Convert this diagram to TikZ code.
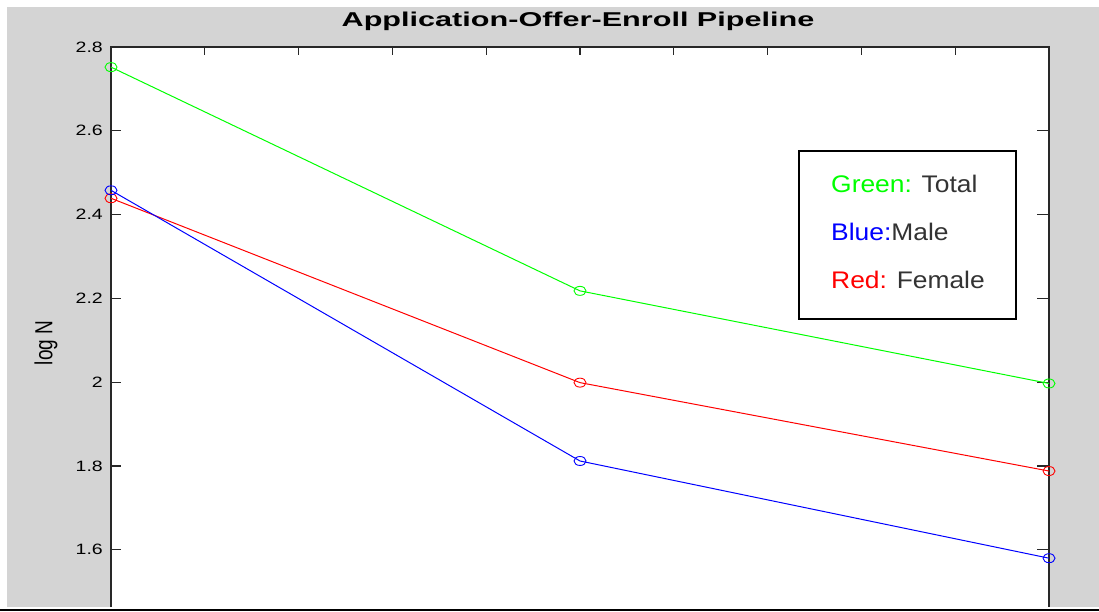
\documentclass[tikz,border=0pt]{standalone}
\usepackage{fontspec}
\setmainfont{Liberation Sans}
\usetikzlibrary{shapes.geometric}
\definecolor{bggray}{RGB}{212,212,212}
\definecolor{axgray}{RGB}{40,40,40}
\definecolor{txtgray}{RGB}{51,51,51}
\definecolor{mgreen}{RGB}{0,255,0}
\definecolor{mblue}{RGB}{0,0,255}
\definecolor{mred}{RGB}{255,0,0}
\tikzset{
  datamark/.style={ellipse,draw=#1,line width=0.9pt,minimum width=12pt,minimum height=9pt,inner sep=0pt},
  dataline/.style={draw=#1,line width=1pt},
  axisline/.style={draw=axgray,line width=1.6pt},
  tickline/.style={draw=axgray,line width=1.2pt},
  ticklabel/.style={anchor=east,inner sep=0pt,text=black,font=\fontsize{15}{15}\selectfont},
  legtext/.style={anchor=base west,inner sep=0pt,font=\fontsize{24}{24}\selectfont}
}
\begin{document}
\begin{tikzpicture}[x=1pt,y=-1pt]
\useasboundingbox (0,0) rectangle (1099,611);
% background
\fill[white] (0,0) rectangle (1099,611);
\fill[bggray] (7,7) rectangle (1099,607);
\fill[black] (0,608.5) rectangle (1099,611);
% plot area
\fill[white] (111,47) rectangle (1049,607);
% title
\node[inner sep=0pt,font=\bfseries\fontsize{20}{20}\selectfont] (title) at (578,21) {\scalebox{1.53}[1]{Application-Offer-Enroll Pipeline}};
% y label
\node[inner sep=0pt,font=\fontsize{19}{19}\selectfont] (ylab) at (46,343) {\rotatebox{90}{\scalebox{1}[1.3]{log N}}};
% ticks
\foreach \i in {1,...,9} {
  \draw[tickline] ({111+\i*93.8},47) -- ++(0,8);
}
\foreach \v/\lab [count=\k] in {1.6/1.6,1.8/1.8,2.0/2,2.2/2.2,2.4/2.4,2.6/2.6,2.8/2.8} {
  \coordinate (yt\k) at (111,{47+(2.8-\v)*419});
  \coordinate (ytr\k) at (1049,{47+(2.8-\v)*419});
  \draw[tickline] (yt\k) -- ++(10,0);
  \draw[tickline] (ytr\k) -- ++(-12,0);
  \node[ticklabel] (ytl\k) at ([xshift=-8pt]yt\k) {\scalebox{1.3}[1]{\lab}};
}
% axes
\draw[axisline] (111,607) -- (111,47) -- (1049,47) -- (1049,607);
% data points
\node[datamark=mgreen] (g1) at (111,{47+(2.8-2.752)*419}) {};
\node[datamark=mgreen] (g2) at (580,{47+(2.8-2.218)*419}) {};
\node[datamark=mgreen] (g3) at (1049,{47+(2.8-1.997)*419}) {};
\node[datamark=mred] (r1) at (111,{47+(2.8-2.439)*419}) {};
\node[datamark=mred] (r2) at (580,{47+(2.8-1.999)*419}) {};
\node[datamark=mred] (r3) at (1049,{47+(2.8-1.788)*419}) {};
\node[datamark=mblue] (b1) at (111,{47+(2.8-2.458)*419}) {};
\node[datamark=mblue] (b2) at (580,{47+(2.8-1.812)*419}) {};
\node[datamark=mblue] (b3) at (1049,{47+(2.8-1.580)*419}) {};
\draw[dataline=mgreen] (g1.center) -- (g2.center) -- (g3.center);
\draw[dataline=mred] (r1.center) -- (r2.center) -- (r3.center);
\draw[dataline=mblue] (b1.center) -- (b2.center) -- (b3.center);
% legend
\node[draw=black,line width=1.6pt,fill=white,minimum width=217pt,minimum height=168pt,inner sep=0pt] (leg) at (907.5,235) {};
\node[legtext] (lg) at (831,192) {\scalebox{1.1}[1]{\textcolor{mgreen}{Green:} \textcolor{txtgray}{Total}}};
\node[legtext] (lb) at (831,240) {\scalebox{1.1}[1]{\textcolor{mblue}{Blue:}\textcolor{txtgray}{Male}}};
\node[legtext] (lr) at (831,288) {\scalebox{1.1}[1]{\textcolor{mred}{Red:} \textcolor{txtgray}{Female}}};
\end{tikzpicture}
\end{document}
